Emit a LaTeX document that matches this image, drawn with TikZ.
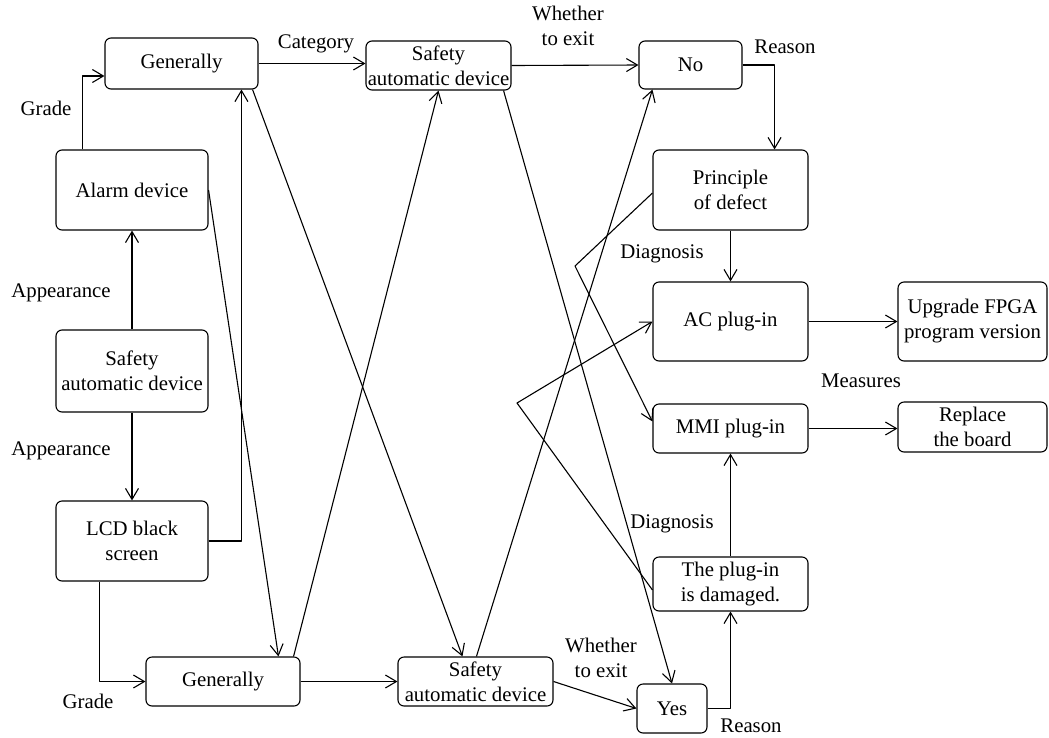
\documentclass[tikz,border=0pt]{standalone}
\usepackage{fontspec}
\setmainfont{Liberation Serif}
\usetikzlibrary{arrows.meta,calc}
\begin{document}
\begin{tikzpicture}[x=1pt,y=-1pt,
  box/.style={draw,rounded corners=6pt,line width=1.1pt,inner sep=0pt,align=center,font=\fontsize{20.8}{25}\selectfont},
  lbl/.style={inner sep=0pt,align=center,font=\fontsize{20.8}{24.5}\selectfont},
  arr/.style={line width=1.1pt,line join=round,-{Straight Barb[length=11pt,width=13pt]}}]
\useasboundingbox (0,0) rectangle (1049,737);
% boxes
\node[box,minimum width=153pt,minimum height=51pt] (gen1) at (181.5,63.5) {Generally};
\node[box,minimum width=152pt,minimum height=80pt] (alarm) at (132,190) {Alarm device};
\node[box,minimum width=152pt,minimum height=82pt] (safeL) at (132,371) {Safety\\automatic device};
\node[box,minimum width=152pt,minimum height=80pt] (lcd) at (132,541) {LCD black\\screen};
\node[box,minimum width=154pt,minimum height=49pt] (gen2) at (223,681.5) {Generally};
\node[box,minimum width=145pt,minimum height=49pt] (safeT) at (438.5,65.5) {Safety\\automatic device};
\node[box,minimum width=155pt,minimum height=49pt] (safeB) at (475.5,681.5) {Safety\\automatic device};
\node[box,minimum width=103pt,minimum height=48pt] (no) at (690.5,65) {No};
\node[box,minimum width=155pt,minimum height=80pt] (prin) at (730.5,190) {Principle\\of defect};
\node[box,minimum width=155pt,minimum height=79pt] (ac) at (730.5,321.5) {AC plug-in};
\node[box,minimum width=149pt,minimum height=79pt] (upg) at (972.5,321.5) {Upgrade FPGA\\program version};
\node[box,minimum width=155pt,minimum height=49pt] (mmi) at (730.5,428.5) {MMI plug-in};
\node[box,minimum width=149pt,minimum height=50pt] (rep) at (972.5,427) {Replace\\the board};
\node[box,minimum width=155pt,minimum height=54pt] (dmg) at (730.5,584) {The plug-in\\is damaged.};
\node[box,minimum width=70pt,minimum height=49pt] (yes) at (672,708.5) {Yes};
% connectors
\draw[arr] ([xshift=27pt]alarm.north west) |- ([yshift=-12.5pt]gen1.west);
\draw[arr] (safeL.north) -- (alarm.south);
\draw[arr] (safeL.south) -- (lcd.north);
\draw[arr] (lcd.east) -| ([xshift=137pt]gen1.south west);
\draw[arr] ([xshift=44pt]lcd.south west) |- (gen2.west);
\draw[arr] (alarm.east) -- ([xshift=133pt]gen2.north west);
\draw[arr] ([xshift=-6pt]gen1.south east) -- ([xshift=65pt]safeB.north west);
\draw[arr] ([xshift=-7pt]gen2.north east) -- (safeT.south);
\draw[arr] (gen1.east) -- (gen1.east -| safeT.west);
\draw[arr] (safeT.east) -- (no.west);
\draw[arr] (no.east) -| ([xshift=-34pt]prin.north east);
\draw[arr] ([xshift=79pt]safeB.north west) -- ([xshift=14pt]no.south west);
\draw[arr] ([xshift=-8pt]safeT.south east) -- (yes.north);
\coordinate (k1) at (575,266);
\draw[arr] ([yshift=-3pt]prin.west) -- (k1) -- ([yshift=7pt]mmi.west);
\coordinate (k2) at (517,403);
\draw[arr] ([yshift=-6pt]dmg.west) -- (k2) -- (ac.west);
\draw[arr] (prin.south) -- (ac.north);
\draw[arr] (ac.east) -- (upg.west);
\draw[arr] (mmi.east) -- (mmi.east -| rep.west);
\draw[arr] (dmg.north) -- (mmi.south);
\draw[arr] (yes.east) -| (dmg.south);
\draw[arr] (safeB.east) -- (yes.west);
\draw[arr] (gen2.east) -- (safeB.west);
% labels
\node[lbl,anchor=base] (l1) at (46,115) {Grade};
\node[lbl,anchor=base] (l2) at (316,48) {Category};
\node[lbl] (l3) at (568,26) {Whether\\to exit};
\node[lbl,anchor=base] (l4) at (785,53) {Reason};
\node[lbl,anchor=base] (l5) at (61,297) {Appearance};
\node[lbl,anchor=base] (l6) at (61,455) {Appearance};
\node[lbl,anchor=base] (l7) at (662,258) {Diagnosis};
\node[lbl,anchor=base] (l8) at (861,387) {Measures};
\node[lbl,anchor=base] (l9) at (672,528) {Diagnosis};
\node[lbl] (l10) at (601,658) {Whether\\to exit};
\node[lbl,anchor=base] (l11) at (88,708) {Grade};
\node[lbl,anchor=base] (l12) at (751,732) {Reason};
\end{tikzpicture}
\end{document}
